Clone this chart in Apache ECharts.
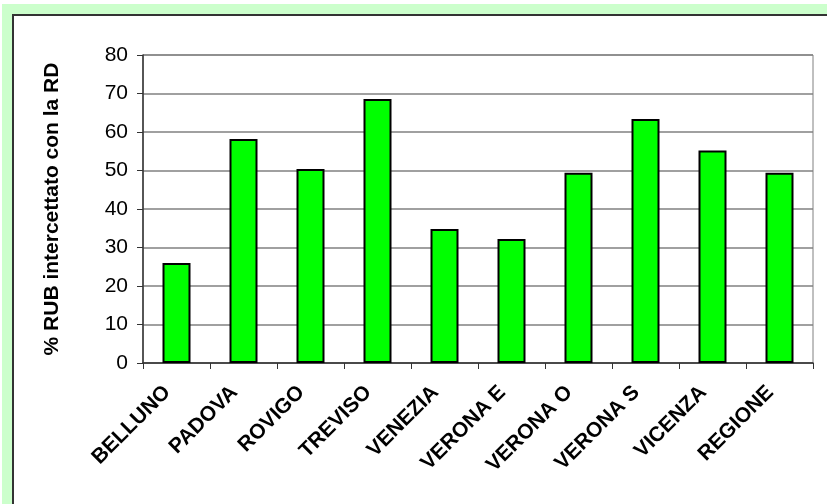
<!DOCTYPE html>
<html lang="it">
  <head>
    <meta charset="UTF-8" />
    <title>RUB intercettato con la RD</title>
    <style>
      html, body {
        margin: 0;
        padding: 0;
        background-color: #fff;
      }
      /* cornice verde + riquadro bianco */
      .frame {
        position: absolute;
        left: 2px;
        top: 4px;
        width: 825px;
        height: 500px;
        background-color: #ccffcc;
      }
      .inner {
        position: absolute;
        left: 12px;
        top: 14px;
        width: 815px;
        height: 490px;
        background-color: #fff;
        border-left: 2px solid #333;
        border-top: 2px solid #333;
        box-sizing: border-box;
      }
      #main {
        position: absolute;
        left: 0;
        top: 0;
        width: 827px;
        height: 504px;
      }
    </style>
  </head>
  <body>
    <div class="frame"></div>
    <div class="inner"></div>
    <div id="main"></div>
    <script src="https://cdn.jsdelivr.net/npm/echarts@6/dist/echarts.min.js"></script>
    <script>
      // dati
      var province = ['BELLUNO', 'PADOVA', 'ROVIGO', 'TREVISO', 'VENEZIA', 'VERONA E', 'VERONA O', 'VERONA S', 'VICENZA', 'REGIONE'];
      var percRD = [26.0, 58.2, 50.4, 68.6, 34.8, 32.2, 49.4, 63.4, 55.2, 49.4];
      var yTitle = '% RUB intercettato con la RD';

      var myChart = echarts.init(document.getElementById('main'));
      var option = {
        backgroundColor: 'transparent',
        animation: false,
        grid: {
          left: 143,
          right: 14,
          top: 55,
          bottom: 141,
          show: true,
          borderColor: '#808080',
          borderWidth: 1,
          backgroundColor: 'transparent'
        },
        xAxis: {
          type: 'category',
          data: province,
          boundaryGap: true,
          axisLine: { lineStyle: { color: '#333', width: 1.5 } },
          axisTick: { show: true, length: 6, inside: false, lineStyle: { color: '#333' } },
          axisLabel: {
            rotate: 45,
            interval: 0,
            margin: 17,
            padding: [0, 13, 0, 0],
            fontFamily: 'Liberation Sans, Arial, sans-serif',
            fontWeight: 'bold',
            fontSize: 21,
            color: '#000'
          }
        },
        yAxis: {
          type: 'value',
          min: 0,
          max: 80,
          interval: 10,
          name: yTitle,
          nameLocation: 'middle',
          nameGap: 80,
          nameTextStyle: {
            fontFamily: 'Liberation Sans, Arial, sans-serif',
            fontWeight: 'bold',
            fontSize: 21,
            color: '#000'
          },
          axisLine: { show: true, lineStyle: { color: '#333', width: 1.5 } },
          axisTick: { show: true, length: 6, inside: false, lineStyle: { color: '#333' } },
          axisLabel: {
            margin: 15,
            fontFamily: 'Liberation Sans, Arial, sans-serif',
            fontSize: 21,
            color: '#000'
          },
          splitLine: { show: true, lineStyle: { color: '#808080', width: 1.5 } }
        },
        series: [
          {
            type: 'bar',
            data: percRD,
            barWidth: 28,
            itemStyle: {
              color: '#00ff00',
              borderColor: '#000',
              borderWidth: 2
            }
          }
        ]
      };
      myChart.setOption(option);
    </script>
  </body>
</html>
